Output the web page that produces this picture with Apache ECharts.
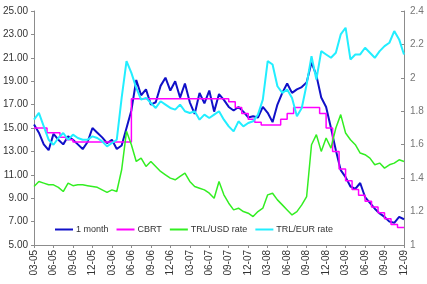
<!DOCTYPE html>
<html>
<head>
<meta charset="utf-8">
<script src="https://cdn.jsdelivr.net/npm/echarts@6/dist/echarts.min.js"></script>
<style>
  html, body { margin: 0; padding: 0; background: #fff; }
  #chart { width: 427px; height: 284px; }
</style>
</head>
<body>
<div id="chart"></div>
<script>
// tick labels, one per quarter (month-year)
const tickLabels = ['03-05', '06-05', '09-05', '12-05', '03-06', '06-06', '09-06', '12-06',
  '03-07', '06-07', '09-07', '12-07', '03-08', '06-08', '09-08', '12-08',
  '03-09', '06-09', '09-09', '12-09'];

// 4 readings per quarter
const oneMonth = [15.3, 14.6, 13.6, 13.1, 14.5, 14.0, 13.6, 14.3, 14.0, 13.6,
  13.2, 13.8, 15.0, 14.6, 14.2, 13.7, 14.0, 13.2, 13.5, 15.0,
  16.5, 19.1, 17.8, 18.3, 17.0, 17.2, 18.6, 19.3, 18.2, 19.0,
  17.6, 18.8, 17.2, 16.2, 18.0, 17.1, 18.2, 16.4, 17.9, 17.4,
  16.8, 16.5, 16.8, 16.4, 15.9, 16.0, 15.9, 16.8, 16.3, 15.5,
  17.0, 18.0, 18.8, 18.0, 18.3, 18.5, 18.9, 20.6, 19.5, 17.6,
  16.8, 15.0, 13.1, 11.4, 10.8, 10.0, 9.8, 10.3, 9.1, 8.6,
  8.1, 7.7, 7.4, 7.0, 6.9, 7.4, 7.2];

// monthly policy rate
const cbrt = [15.0, 15.0, 14.6, 14.6, 14.2, 14.0, 13.8, 13.8, 13.8, 13.8,
  13.8, 13.8, 13.8, 13.8, 13.8, 17.5, 17.5, 17.5, 17.5, 17.5,
  17.5, 17.5, 17.5, 17.5, 17.5, 17.5, 17.5, 17.5, 17.5, 17.5,
  17.25, 16.75, 16.25, 15.75, 15.5, 15.25, 15.25, 15.25, 15.75, 16.25,
  16.75, 16.75, 16.75, 16.75, 16.25, 15.0, 13.0, 11.5, 10.5, 9.75,
  9.25, 8.75, 8.25, 7.75, 7.25, 6.75, 6.5, 6.5];

const usd = [1.35, 1.38, 1.37, 1.36, 1.36, 1.345, 1.32, 1.37, 1.355, 1.36,
  1.36, 1.355, 1.35, 1.345, 1.33, 1.315, 1.33, 1.32, 1.45, 1.68,
  1.60, 1.50, 1.52, 1.47, 1.50, 1.47, 1.44, 1.42, 1.40, 1.39,
  1.41, 1.43, 1.38, 1.35, 1.34, 1.33, 1.31, 1.28, 1.38, 1.30,
  1.25, 1.21, 1.22, 1.20, 1.19, 1.17, 1.20, 1.22, 1.30, 1.31,
  1.27, 1.24, 1.21, 1.18, 1.20, 1.24, 1.29, 1.60, 1.66, 1.56,
  1.64, 1.58, 1.70, 1.78, 1.67, 1.63, 1.60, 1.55, 1.54, 1.52,
  1.48, 1.49, 1.46, 1.48, 1.49, 1.51, 1.50];

const eur = [1.75, 1.79, 1.71, 1.63, 1.60, 1.64, 1.67, 1.63, 1.66, 1.64,
  1.63, 1.63, 1.65, 1.64, 1.62, 1.59, 1.61, 1.63, 1.88, 2.10,
  2.03, 1.94, 1.87, 1.88, 1.85, 1.82, 1.86, 1.84, 1.82, 1.81,
  1.84, 1.80, 1.79, 1.80, 1.75, 1.78, 1.76, 1.78, 1.80, 1.75,
  1.71, 1.68, 1.74, 1.71, 1.73, 1.74, 1.78, 1.87, 2.10, 2.08,
  1.95, 1.91, 1.93, 1.88, 1.77, 1.82, 1.96, 2.13, 1.99, 2.16,
  2.14, 2.12, 2.15, 2.26, 2.30, 2.11, 2.14, 2.14, 2.18, 2.15,
  2.12, 2.16, 2.19, 2.21, 2.28, 2.23, 2.14];

const weekly = arr => arr.map((v, i) => [i / 4, v]);
const monthly = arr => arr.map((v, i) => [i / 3, v]);

const font = 'Liberation Sans, Arial, sans-serif';
const axisGray = '#8c8c8c';

const chart = echarts.init(document.getElementById('chart'));
chart.setOption({
  animation: false,
  grid: { left: 33, right: 23, top: 11, bottom: 39 },
  legend: {
    left: 50, top: 220,
    itemWidth: 18, itemHeight: 2, itemGap: 8,
    icon: 'rect',
    textStyle: { fontFamily: font, fontSize: 9, color: '#333', padding: [0, 0, 0, -2] },
    data: ['1 month', 'CBRT', 'TRL/USD rate', 'TRL/EUR rate']
  },
  xAxis: {
    type: 'value', min: 0, max: 19, interval: 1,
    axisLine: { lineStyle: { color: axisGray } },
    axisTick: { length: 3, lineStyle: { color: axisGray } },
    splitLine: { show: false },
    axisLabel: {
      rotate: 90, margin: 5, fontFamily: font, fontSize: 10, color: '#333',
      formatter: v => tickLabels[v]
    }
  },
  yAxis: [{
    type: 'value', min: 5, max: 25, interval: 2,
    axisLine: { show: true, lineStyle: { color: axisGray } },
    axisTick: { show: true, length: 3, lineStyle: { color: axisGray } },
    splitLine: { show: false },
    axisLabel: { margin: 6, fontFamily: font, fontSize: 10, color: '#333',
      formatter: v => v.toFixed(2) }
  }, {
    type: 'value', min: 1, max: 2.4, interval: 0.2,
    axisLine: { show: true, lineStyle: { color: axisGray } },
    axisTick: { show: true, inside: true, length: 3, lineStyle: { color: axisGray } },
    splitLine: { show: false },
    axisLabel: { margin: 6, fontFamily: font, fontSize: 10, color: '#777',
      formatter: v => String(+v.toFixed(1)) }
  }],
  series: [{
    name: '1 month', type: 'line', yAxisIndex: 0, showSymbol: false,
    lineStyle: { color: '#1010c8', width: 2 }, itemStyle: { color: '#1010c8' },
    data: weekly(oneMonth)
  }, {
    name: 'CBRT', type: 'line', yAxisIndex: 0, showSymbol: false, step: 'end',
    lineStyle: { color: '#ff00ff', width: 1.5 }, itemStyle: { color: '#ff00ff' },
    data: monthly(cbrt)
  }, {
    name: 'TRL/USD rate', type: 'line', yAxisIndex: 1, showSymbol: false,
    lineStyle: { color: '#33ee22', width: 1.5 }, itemStyle: { color: '#33ee22' },
    data: weekly(usd)
  }, {
    name: 'TRL/EUR rate', type: 'line', yAxisIndex: 1, showSymbol: false,
    lineStyle: { color: '#22eeff', width: 2 }, itemStyle: { color: '#22eeff' },
    data: weekly(eur)
  }]
});
</script>
</body>
</html>
